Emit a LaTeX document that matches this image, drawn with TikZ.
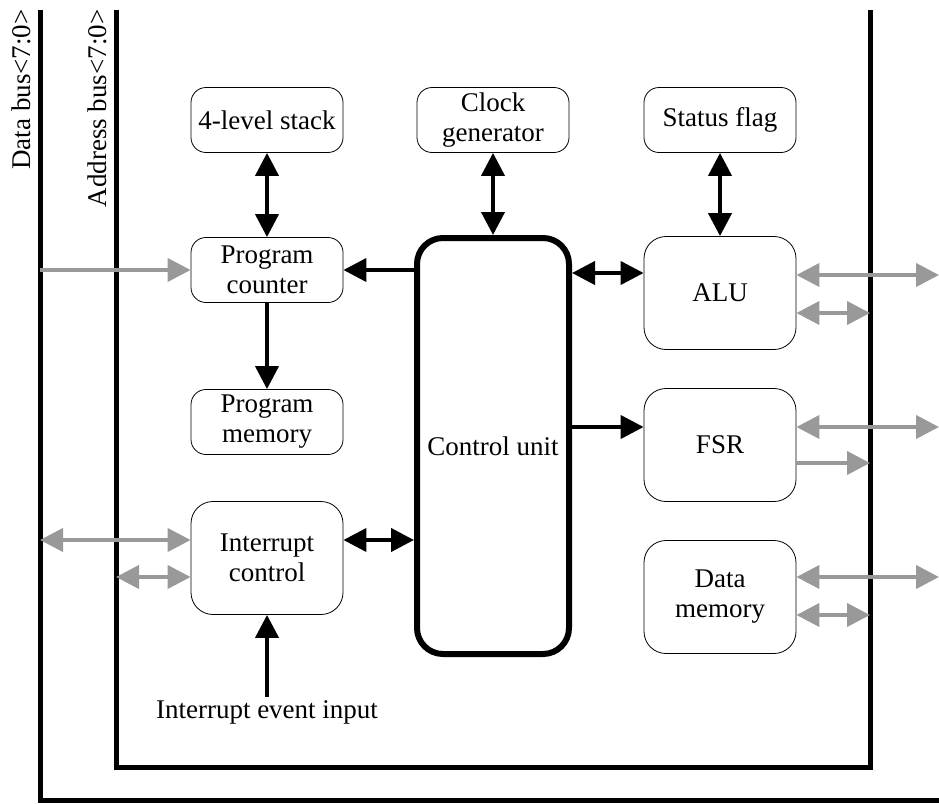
\documentclass[tikz,border=0pt]{standalone}
\usepackage{fontspec}
\setmainfont{Liberation Serif}
\usetikzlibrary{arrows.meta}

\tikzset{
  bloc/.style={draw, line width=0.8pt, rounded corners=15pt, minimum width=152pt,
    minimum height=65pt, align=center, inner sep=2pt},
  grandbloc/.style={bloc, minimum height=113pt, rounded corners=22pt},
  bus/.style={line width=5pt},
  noir/.style={line width=4pt},
  gris/.style={line width=4pt, draw=black!40, fill=black!40},
}

\begin{document}
\begin{tikzpicture}[x=1pt, y=-1pt, font=\fontsize{27}{30}\selectfont,
    >={Triangle[length=23pt,width=23pt]}]
    \useasboundingbox (0,0) rectangle (939,803);

    % bus
    \draw[bus] (40,10) -- (40,800) -- (945,800);
    \draw[bus] (116,10) -- (116,767) -- (870,767) -- (870,10);
    \node[rotate=90, anchor=east] (dbus) at (21,6) {Data bus<7:0>};
    \node[rotate=90, anchor=east] (abus) at (97,6) {Address bus<7:0>};

    % blocs
    \node[bloc] (stack) at (267,120) {4-level stack};
    \node[bloc] (clk) at (493,120) {Clock\\generator};
    \node[bloc] (flag) at (720,120) {Status flag};
    \node[bloc] (pc) at (267,270) {Program\\counter};
    \node[bloc] (pmem) at (267,422) {Program\\memory};
    \node[grandbloc] (irq) at (267,558) {Interrupt\\control};
    \node[grandbloc] (alu) at (720,293) {ALU};
    \node[grandbloc] (fsr) at (720,445) {FSR};
    \node[grandbloc] (dmem) at (720,597) {Data\\memory};
    \node[draw, line width=6pt, rounded corners=26pt, minimum width=152pt,
      minimum height=416pt] (cu) at (493,446) {Control unit};
    \node (evt) at (267,712) {Interrupt event input};

    % fleches noires
    \foreach \a/\b in {stack/pc, clk/cu, flag/alu}{
      \draw[noir,<->] (\a.south) -- (\b.north);
    }
    \draw[noir,->] (pc.south) -- (pmem.north);
    \draw[noir,->] (evt.north) -- (irq.south);
    \draw[noir,->] (cu.west |- pc) -- (pc.east);
    \draw[noir,<->] (cu.east |- 0,273) -- (alu.west |- 0,273);
    \draw[noir,->] (cu.east |- 0,427) -- (alu.west |- 0,427);
    \draw[noir,<->] (irq.east |- 0,540) -- (cu.west |- 0,540);

    % fleches grises
    \coordinate (d1) at (40,270);
    \coordinate (d2) at (40,540);
    \coordinate (a1) at (116,577);
    \draw[gris,->] (d1) -- (pc.west);
    \draw[gris,<->] (d2) -- (irq.west |- d2);
    \draw[gris,<->] (a1) -- (irq.west |- a1);
    \foreach \n/\y in {alu/275, fsr/427, dmem/577}{
      \coordinate (r\n) at (939,\y);
      \draw[gris,<->] (\n.east |- r\n) -- (r\n);
    }
    \draw[gris,<->] (alu.east |- 0,313) -- (870,313);
    \draw[gris,->] (fsr.east |- 0,463) -- (870,463);
    \draw[gris,<->] (dmem.east |- 0,615) -- (870,615);
  \end{tikzpicture}
\end{document}
